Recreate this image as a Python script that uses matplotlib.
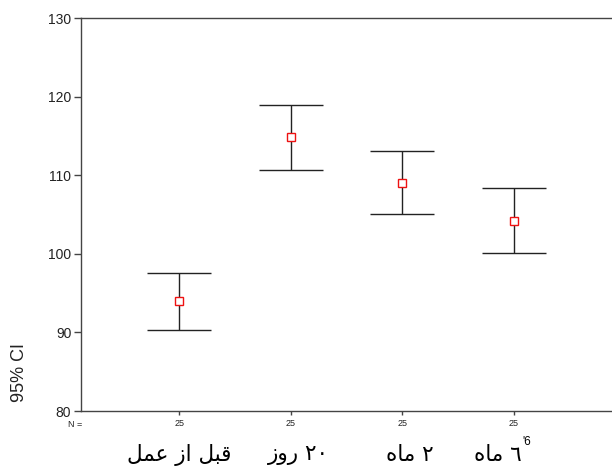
import numpy as np
import matplotlib
matplotlib.use("Agg")
import matplotlib.pyplot as plt
import matplotlib.transforms as mtransforms

# group labels (Arabic presentation forms)
labels = ["\uFEDE\uFEE4\uFECB \uFEAF\uFE8D \uFEDE\uFE92\uFED7",   # قبل از عمل
          "\uFEAF\uFEED\uFEAD \u0662\u0660",                      # ٢٠ روز
          "\uFEE9\uFE8E\uFEE3 \u0662",                            # ٢ ماه
          "\uFEE9\uFE8E\uFEE3 \u0666"]                            # ٦ ماه
n_counts = [25, 25, 25, 25]
means = [94.0, 114.8, 109.0, 104.2]
lower = [90.3, 110.7, 105.1, 100.1]
upper = [97.5, 118.9, 113.1, 108.4]

plt.rcParams["font.family"] = ["Liberation Sans", "DejaVu Sans"]

fig = plt.figure(figsize=(6.12, 4.69), dpi=100)
ax = fig.add_axes([81 / 612, 1 - 411 / 469, 1 - 81 / 612, (411 - 18) / 469])

x = np.arange(1, len(means) + 1)
m = np.array(means)
err = np.vstack([m - np.array(lower), np.array(upper) - m])
ax.errorbar(x, m, yerr=err, fmt="none", ecolor="#222222", elinewidth=1.0,
            capsize=23, capthick=1.0)
ax.plot(x, m, "s", mfc="white", mec="#ee1111", ms=5.5, mew=1.0, ls="none")

ax.set_xlim(0.12, 4.88)
ax.set_ylim(80, 130)
ax.set_yticks(np.arange(80, 131, 10))
ax.tick_params(axis="y", labelsize=10, length=5, width=1, color="#444444",
               labelcolor="#222222", pad=2)
ax.set_xticks(x)
ax.set_xticklabels([str(v) for v in n_counts], fontsize=6.5)
ax.tick_params(axis="x", length=3, width=1, color="#444444", pad=3,
               labelcolor="#222222")
for s in ["left", "top", "bottom"]:
    ax.spines[s].set_color("#444444")
    ax.spines[s].set_linewidth(1.0)
ax.spines["right"].set_visible(False)

fig.text(75 / 612, 1 - 424 / 469, "N =", fontsize=6.5, color="#222222",
         ha="center", va="center")
fig.text(19 / 612, 1 - 372 / 469, "95% CI", fontsize=13, rotation=90,
         ha="center", va="center", color="#222222")

trans = mtransforms.blended_transform_factory(ax.transData, fig.transFigure)
offsets = [0, 8, 8, -16]
for xi, lab, dx in zip(x, labels, offsets):
    t = mtransforms.offset_copy(trans, fig=fig, x=dx, y=0, units="dots")
    ax.text(xi, 1 - 455 / 469, lab, transform=t, fontsize=15.5,
            family=["DejaVu Sans"], ha="center", va="center", color="black",
            clip_on=False)
t = mtransforms.offset_copy(trans, fig=fig, x=13, y=0, units="dots")
ax.text(x[-1], 1 - 442 / 469, "'6", transform=t, fontsize=8.5, ha="center",
        va="center", color="black", clip_on=False)

fig.savefig("out.png", dpi=100)
